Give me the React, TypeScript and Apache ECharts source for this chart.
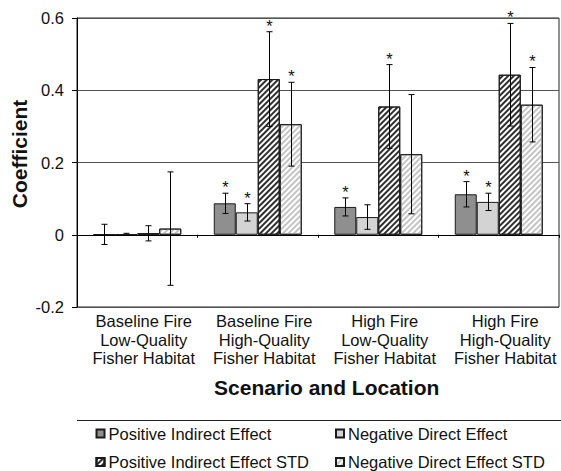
import React, { useEffect, useRef } from 'react';
import * as echarts from 'echarts';

const categories = [
  'Baseline Fire\nLow-Quality\nFisher Habitat',
  'Baseline Fire\nHigh-Quality\nFisher Habitat',
  'High Fire\nLow-Quality\nFisher Habitat',
  'High Fire\nHigh-Quality\nFisher Habitat',
];

const seriesNames = [
  'Positive Indirect Effect',
  'Negative Direct Effect',
  'Positive Indirect Effect STD',
  'Negative Direct Effect STD',
];

const posIndirect = [0.001, 0.087, 0.077, 0.112];
const posIndirectErr = [0.028, 0.028, 0.025, 0.035];
const posIndirectStar = [0, 1, 1, 1];

const negDirect = [0.001, 0.062, 0.049, 0.091];
const negDirectErr = [0.003, 0.024, 0.034, 0.024];
const negDirectStar = [0, 1, 0, 1];

const posIndirectStd = [0.004, 0.431, 0.355, 0.443];
const posIndirectStdErr = [0.021, 0.131, 0.116, 0.142];
const posIndirectStdStar = [0, 1, 1, 1];

const negDirectStd = [0.017, 0.306, 0.223, 0.36];
const negDirectStdErr = [0.157, 0.116, 0.165, 0.103];
const negDirectStdStar = [0, 1, 0, 1];

const yTicks = [-0.2, 0, 0.2, 0.4, 0.6];
const yTickLabels = ['-0.2', '0', '0.2', '0.4', '0.6'];

const FONT = '"Liberation Sans", Arial, sans-serif';
const CAT_GAP = 0.27;

export default function App() {
  const ref = useRef<HTMLDivElement>(null);
  useEffect(() => {
    const chart = echarts.init(ref.current!, null, { renderer: 'svg' });
    const values = [posIndirect, negDirect, posIndirectStd, negDirectStd];
    const errs = [posIndirectErr, negDirectErr, posIndirectStdErr, negDirectStdErr];
    const stars = [posIndirectStar, negDirectStar, posIndirectStdStar, negDirectStdStar];

    const styles: any[] = [
      { color: '#8f8f8f', borderColor: '#1a1a1a', borderWidth: 1 },
      { color: '#d3d3d3', borderColor: '#1a1a1a', borderWidth: 1 },
      {
        color: '#ffffff', borderColor: '#1a1a1a', borderWidth: 1,
        decal: { symbol: 'rect', symbolSize: 1, color: '#2e2e2e', dashArrayX: [1, 0], dashArrayY: [2, 2], rotation: -Math.PI / 4 },
      },
      {
        color: '#ffffff', borderColor: '#1a1a1a', borderWidth: 1,
        decal: { symbol: 'rect', symbolSize: 1, color: '#c4c4c4', dashArrayX: [1, 0], dashArrayY: [2, 2], rotation: -Math.PI / 4 },
      },
    ];

    const errData: any[] = [];
    values.forEach((arr, s) => {
      arr.forEach((v, c) => {
        errData.push([c, s, v, errs[s][c], stars[s][c]]);
      });
    });

    const barSeries = seriesNames.map((name, s) => ({
      name,
      type: 'bar',
      xAxisIndex: 0,
      yAxisIndex: 0,
      data: values[s],
      barGap: '0%',
      barCategoryGap: CAT_GAP * 100 + '%',
      itemStyle: styles[s],
      emphasis: { disabled: true },
    }));

    const legendPos = [
      { left: 95.5, top: 425 },
      { left: 335, top: 425 },
      { left: 95.5, top: 453.5 },
      { left: 335, top: 453.5 },
    ];

    const option: any = {
      animation: false,
      backgroundColor: '#ffffff',
      grid: {
        left: 77, right: 2, top: 18, bottom: 164,
        show: true, borderColor: '#222', borderWidth: 1, backgroundColor: 'transparent',
      },
      legend: seriesNames.map((name, i) => ({
        data: [name],
        left: legendPos[i].left,
        top: legendPos[i].top,
        padding: 0,
        itemWidth: 8,
        itemHeight: 8,
        itemGap: 0,
        icon: 'rect',
        selectedMode: false,
        textStyle: { fontFamily: FONT, fontSize: 16.5, color: '#111', lineHeight: 17, padding: [0, 0, 0, -1] },
      })),
      xAxis: [
        {
          type: 'category',
          data: categories,
          position: 'bottom',
          axisLine: { show: true, onZero: true, lineStyle: { color: '#000', width: 1 } },
          axisTick: { show: true, length: 3, alignWithLabel: false, lineStyle: { color: '#000' } },
          axisLabel: { show: false },
          splitLine: { show: false },
        },
        {
          type: 'category',
          data: categories,
          position: 'bottom',
          axisLine: { show: false, onZero: false },
          axisTick: { show: false },
          axisLabel: {
            show: true, margin: 5, fontFamily: FONT, fontSize: 16.5, color: '#111',
            lineHeight: 18.5, align: 'center', padding: [0, 0, 0, 13], interval: 0,
          },
          splitLine: { show: false },
        },
      ],
      yAxis: {
        type: 'value',
        min: -0.2,
        max: 0.6,
        interval: 0.2,
        axisLine: { show: true, lineStyle: { color: '#000', width: 1 } },
        axisTick: { show: true, inside: false, length: 5, lineStyle: { color: '#000' } },
        axisLabel: {
          margin: 13, fontFamily: FONT, fontSize: 16.5, color: '#111',
          formatter: (v: number) => {
            let best = 0;
            yTicks.forEach((t, i) => { if (Math.abs(t - v) < Math.abs(yTicks[best] - v)) best = i; });
            return yTickLabels[best];
          },
        },
        splitLine: { show: true, lineStyle: { color: '#555', width: 1 } },
      },
      graphic: [
        {
          type: 'text', x: 19, y: 154, rotation: Math.PI / 2,
          style: { text: 'Coefficient', fontFamily: FONT, fontSize: 21, fontWeight: 'bold', fill: '#111', align: 'center', verticalAlign: 'middle' },
        },
        {
          type: 'text', x: 326.7, y: 387,
          style: { text: 'Scenario and Location', fontFamily: FONT, fontSize: 21, fontWeight: 'bold', fill: '#111', align: 'center', verticalAlign: 'middle' },
        },
        {
          type: 'line', shape: { x1: 77, y1: 420.5, x2: 561, y2: 420.5 },
          style: { stroke: '#222', lineWidth: 1 },
        },
      ],
      series: [
        ...barSeries,
        {
          type: 'custom',
          xAxisIndex: 0,
          yAxisIndex: 0,
          data: errData,
          encode: { x: 0, y: 2 },
          clip: false,
          z: 10,
          renderItem: (params: any, api: any) => {
            const c = api.value(0);
            const s = api.value(1);
            const v = api.value(2);
            const e = api.value(3);
            const star = api.value(4);
            const center = api.coord([c, 0]);
            const band = api.size([1, 0])[0];
            const bw = (band * (1 - CAT_GAP)) / 4;
            const x = Math.round(center[0] + (s - 1.5) * bw) + 0.5;
            const top = api.coord([c, v + e])[1];
            const bot = api.coord([c, v - e])[1];
            const cap = 3;
            const ls = { stroke: '#000', lineWidth: 1 };
            const children: any[] = [
              { type: 'line', shape: { x1: x, y1: top, x2: x, y2: bot }, style: ls },
              { type: 'line', shape: { x1: x - cap, y1: top, x2: x + cap, y2: top }, style: ls },
              { type: 'line', shape: { x1: x - cap, y1: bot, x2: x + cap, y2: bot }, style: ls },
            ];
            if (star) {
              children.push({
                type: 'text', x, y: top - 6,
                style: { text: '*', fontFamily: FONT, fontSize: 16.5, fill: '#111', align: 'center', verticalAlign: 'middle' },
              });
            }
            return { type: 'group', children };
          },
        },
      ],
    };
    chart.setOption(option);
    return () => chart.dispose();
  }, []);
  return <div ref={ref} style={{ position: 'fixed', left: 0, top: 0, width: 561, height: 471 }} />;
}
